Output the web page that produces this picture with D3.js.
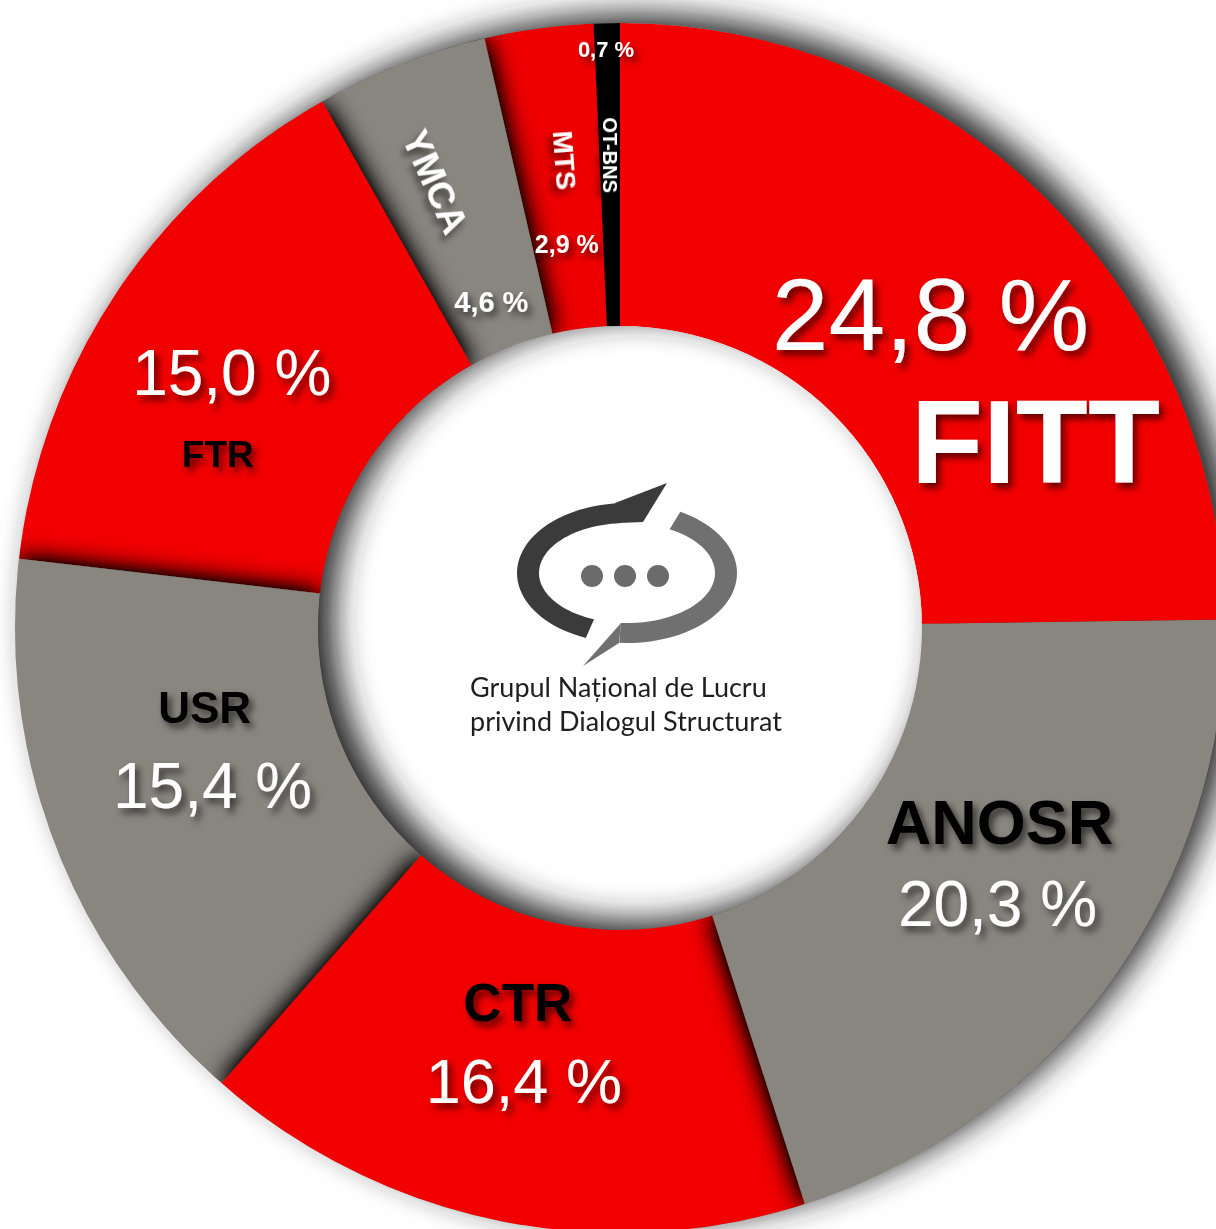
<!DOCTYPE html>
<html>
<head>
<meta charset="utf-8">
<script src="https://cdn.jsdelivr.net/npm/d3@7"></script>
<style>
  body { margin: 0; background: #fff; }
  svg { display: block; }
</style>
</head>
<body>
<div id="chart"></div>
<script>
// data
const names = ["FITT", "ANOSR", "CTR", "USR", "FTR", "YMCA", "MTS", "OT-BNS"];
const shares = [24.8, 20.3, 16.4, 15.4, 15.0, 4.6, 2.9, 0.7];
const sliceColors = ["#f20000", "#89857f", "#f20000", "#89857f", "#f20000", "#89857f", "#ee0000", "#000000"];
const centerText = ["Grupul Național de Lucru", "privind Dialogul Structurat"];

const width = 1216, height = 1229;
const cx = 620, cy = 628;
const innerR = 302, outerR = 605, labelR = 455;

// label placement relative to each slice centroid: [dx, dy, size, weight, colour, rotate]
const nameStyle = {
  "FITT":   [96, 179, 118, "bold", "#fff", 0],
  "ANOSR":  [10, -49, 63, "bold", "#000", 0],
  "CTR":    [-10, -53, 53, "bold", "#000", 0],
  "USR":    [9, -69, 44, "bold", "#000", 0],
  "FTR":    [-23, 90, 37, "bold", "#000", 0],
  "YMCA":   [-20, -22, 37, "bold", "#fff", 66],
  "MTS":    [6, -17, 28, "bold", "#fff", 86],
  "OT-BNS": [0, -18, 20, "bold", "#fff", 90]
};
const valueStyle = {
  "FITT":   [-9, 46, 102, "normal"],
  "ANOSR":  [8, 33, 64, "normal"],
  "CTR":    [-4, 29, 63, "normal"],
  "USR":    [17, 16, 64, "normal"],
  "FTR":    [-9, 18, 64, "normal"],
  "YMCA":   [36, 108, 29, "bold"],
  "MTS":    [8, 76, 25, "bold"],
  "OT-BNS": [-4, -116, 22, "bold"]
};
// which slice sits on top of which (shadows fall on the one below)
const stackOrder = ["OT-BNS", "MTS", "YMCA", "FTR", "USR", "CTR", "ANOSR", "FITT"];

const data = names.map((n, i) => ({name: n, value: shares[i], color: sliceColors[i]}));

const svg = d3.select("#chart").append("svg")
  .attr("width", width)
  .attr("height", height);

svg.append("rect").attr("width", width).attr("height", height).attr("fill", "#fff");

const defs = svg.append("defs");

// soft shadow around the whole ring, thrown to the right and a bit up
const ringShadow = defs.append("filter").attr("id", "ringShadow")
  .attr("x", "-20%").attr("y", "-20%").attr("width", "140%").attr("height", "140%");
ringShadow.append("feGaussianBlur").attr("in", "SourceAlpha").attr("stdDeviation", 16).attr("result", "blur");
ringShadow.append("feOffset").attr("in", "blur").attr("dx", 16).attr("dy", -9).attr("result", "off");
ringShadow.append("feComponentTransfer").attr("in", "off").attr("result", "dark")
  .append("feFuncA").attr("type", "linear").attr("slope", 1.0);
ringShadow.append("feFlood").attr("flood-color", "#262626").attr("result", "col");
ringShadow.append("feComposite").attr("in", "col").attr("in2", "dark").attr("operator", "in").attr("result", "shadow");
let m = ringShadow.append("feMerge");
m.append("feMergeNode").attr("in", "shadow");
m.append("feMergeNode").attr("in", "SourceGraphic");

// shadow each slice throws on its neighbours
const sliceShadow = defs.append("filter").attr("id", "sliceShadow")
  .attr("x", "-30%").attr("y", "-30%").attr("width", "160%").attr("height", "160%");
sliceShadow.append("feGaussianBlur").attr("in", "SourceAlpha").attr("stdDeviation", 13).attr("result", "blur");
sliceShadow.append("feComponentTransfer").attr("in", "blur").attr("result", "dark")
  .append("feFuncA").attr("type", "linear").attr("slope", 1.6);
sliceShadow.append("feFlood").attr("flood-color", "#000").attr("result", "col");
sliceShadow.append("feComposite").attr("in", "col").attr("in2", "dark").attr("operator", "in").attr("result", "shadow");
m = sliceShadow.append("feMerge");
m.append("feMergeNode").attr("in", "shadow");
m.append("feMergeNode").attr("in", "SourceGraphic");

const textShadow = defs.append("filter").attr("id", "textShadow")
  .attr("x", "-20%").attr("y", "-30%").attr("width", "140%").attr("height", "160%");
textShadow.append("feDropShadow")
  .attr("dx", 4).attr("dy", 5).attr("stdDeviation", 3.5)
  .attr("flood-color", "#000").attr("flood-opacity", 0.6);

const pie = d3.pie().sort(null).value(d => d.value);
const arcs = pie(data);

const arc = d3.arc().innerRadius(innerR).outerRadius(outerR);
const labelArc = d3.arc().innerRadius(labelR).outerRadius(labelR);

defs.append("clipPath").attr("id", "ringClip")
  .append("path")
  .attr("transform", `translate(${cx},${cy})`)
  .attr("d", d3.arc().innerRadius(innerR).outerRadius(outerR)({startAngle: 0, endAngle: 2 * Math.PI}));

// donut
const ring = svg.append("g").attr("filter", "url(#ringShadow)");
const slices = ring.append("g").attr("clip-path", "url(#ringClip)")
  .append("g").attr("transform", `translate(${cx},${cy})`);

slices.selectAll("path")
  .data(arcs.slice().sort((a, b) => stackOrder.indexOf(a.data.name) - stackOrder.indexOf(b.data.name)))
  .enter()
  .append("path")
  .attr("d", arc)
  .attr("fill", d => d.data.color)
  .attr("filter", d => d.data.name === "FITT" ? null : "url(#sliceShadow)");

// labels
const fmt = v => d3.format(".1f")(v).replace(".", ",") + " %";
const labels = svg.append("g")
  .attr("transform", `translate(${cx},${cy})`)
  .style("font-family", "'Liberation Sans', Arial, Helvetica, sans-serif");

arcs.forEach(a => {
  const [x, y] = labelArc.centroid(a);
  const ns = nameStyle[a.data.name];
  const vs = valueStyle[a.data.name];

  const nameText = labels.append("text")
    .attr("text-anchor", "middle")
    .attr("font-size", ns[2])
    .attr("font-weight", ns[3])
    .attr("fill", ns[4])
    .attr("filter", "url(#textShadow)")
    .text(a.data.name);
  if (ns[5]) {
    nameText.attr("dy", "0.35em")
      .attr("transform", `translate(${x + ns[0]},${y + ns[1]}) rotate(${ns[5]})`);
  } else {
    nameText.attr("x", x + ns[0]).attr("y", y + ns[1]);
  }

  labels.append("text")
    .attr("text-anchor", "middle")
    .attr("x", x + vs[0])
    .attr("y", y + vs[1])
    .attr("font-size", vs[2])
    .attr("font-weight", vs[3])
    .attr("fill", "#fff")
    .attr("filter", "url(#textShadow)")
    .text(fmt(a.data.value));
});

// logo in the hole
const logo = svg.append("g").attr("transform", `translate(${cx + 7},${cy - 55})`);

function ringPath(a0, a1, rxo, ryo, rxi, ryi) {
  const n = 48, pts = [];
  for (let i = 0; i <= n; i++) {
    const a = (a0 + (a1 - a0) * i / n) * Math.PI / 180;
    pts.push([rxo * Math.cos(a), ryo * Math.sin(a)]);
  }
  for (let i = n; i >= 0; i--) {
    const a = (a0 + (a1 - a0) * i / n) * Math.PI / 180;
    pts.push([rxi * Math.cos(a), ryi * Math.sin(a)]);
  }
  return d3.line()(pts) + "Z";
}

logo.append("path").attr("d", ringPath(112, 266, 110, 70, 88, 50)).attr("fill", "#3b3b3b");
logo.append("path").attr("d", d3.line()([[-12, -70], [40, -90], [16, -51], [-8, -50]]) + "Z").attr("fill", "#3b3b3b");
logo.append("path").attr("d", ringPath(-61, 94, 110, 70, 88, 50)).attr("fill", "#707070");
logo.append("path").attr("d", d3.line()([[-6, 50], [-44, 93], [-8, 70]]) + "Z").attr("fill", "#707070");

logo.selectAll("circle.dot")
  .data([-35, -2, 31])
  .enter()
  .append("circle")
  .attr("class", "dot")
  .attr("cx", d => d)
  .attr("cy", 3)
  .attr("r", 11)
  .attr("fill", "#6b6b6b");

svg.append("g")
  .selectAll("text")
  .data(centerText)
  .enter()
  .append("text")
  .attr("x", cx - 150)
  .attr("y", (d, i) => cy + 69 + i * 34)
  .attr("font-family", "Lato, 'Open Sans', sans-serif")
  .attr("font-size", 27)
  .attr("fill", "#1e1e1e")
  .text(d => d);
</script>
</body>
</html>
